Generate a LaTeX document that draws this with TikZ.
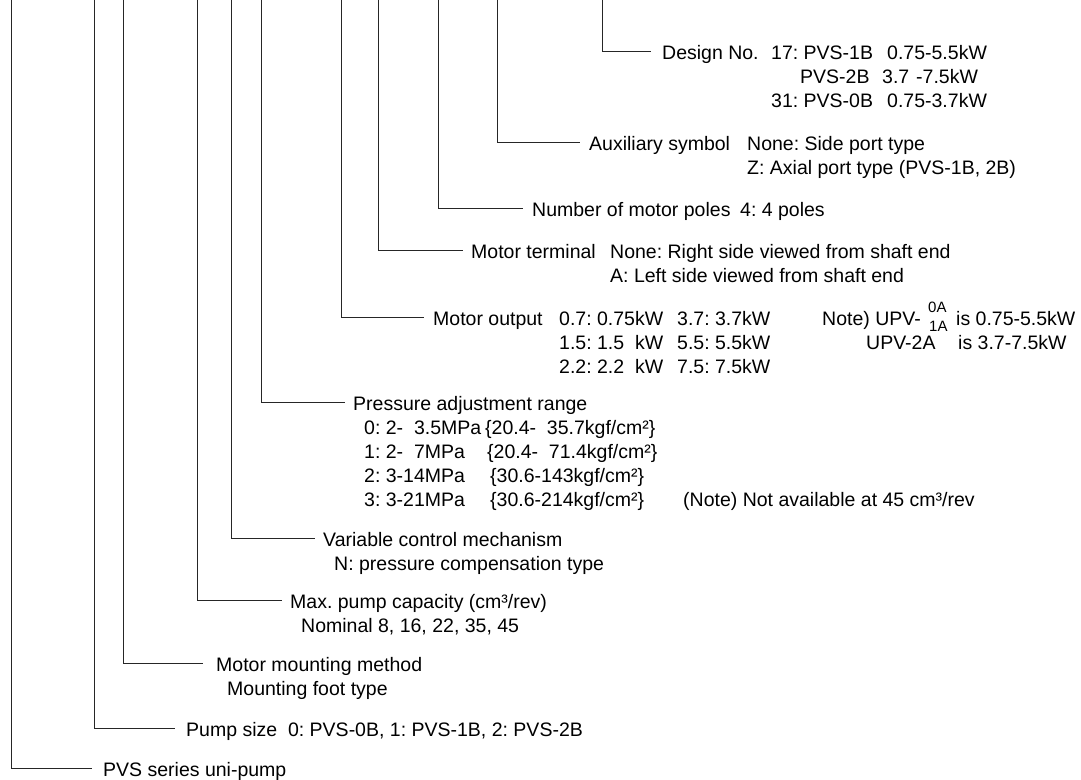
\documentclass[tikz,border=0pt]{standalone}
\usepackage{fontspec}
\setmainfont{Liberation Sans}
\frenchspacing
\begin{document}
\begin{tikzpicture}[x=1pt,y=-1pt,
  conn/.style={draw=black!85, line width=0.9pt},
  lbl/.style={anchor=base west, inner sep=0pt, text height=19pt, text depth=3pt, font=\fontsize{19.5}{24}\selectfont},
  sm/.style={anchor=base west, inner sep=0pt, font=\fontsize{15}{15}\selectfont}]
\useasboundingbox (0,0) rectangle (1081,779);

% ---- Design No.
\node[lbl] (t1) at (662,59) {Design No.};
\node[lbl] (d1a) at (771,59) {17: PVS-1B};
\node[lbl] (d1b) at (887,59) {0.75-5.5kW};
\node[lbl] (d2a) at (800,83) {PVS-2B};
\node[lbl] (d2b) at (882,83) {3.7};
\node[lbl] (d2c) at (916,83) {-7.5kW};
\node[lbl] (d3a) at (771,107) {31: PVS-0B};
\node[lbl] (d3b) at (887,107) {0.75-3.7kW};

% ---- Auxiliary symbol
\node[lbl] (t2) at (589,150) {Auxiliary symbol};
\node[lbl] (a1) at (747,150) {None: Side port type};
\node[lbl] (a2) at (747,174) {Z: Axial port type (PVS-1B, 2B)};

% ---- Number of motor poles
\node[lbl] (t3) at (532,216) {Number of motor poles};
\node[lbl] (p1) at (740,216) {4: 4 poles};

% ---- Motor terminal
\node[lbl] (t4) at (471,258) {Motor terminal};
\node[lbl] (m1) at (610,258) {None: Right side viewed from shaft end};
\node[lbl] (m2) at (610,282) {A: Left side viewed from shaft end};

% ---- Motor output
\node[lbl] (t5) at (433,325) {Motor output};
\node[lbl] (o1a) at (559,325) {0.7: 0.75kW};
\node[lbl] (o2a) at (559,349) {1.5: 1.5\ \ kW};
\node[lbl] (o3a) at (559,373) {2.2: 2.2\ \ kW};
\node[lbl] (o1b) at (677,325) {3.7: 3.7kW};
\node[lbl] (o2b) at (677,349) {5.5: 5.5kW};
\node[lbl] (o3b) at (677,373) {7.5: 7.5kW};
\node[lbl] (n1) at (822,325) {Note) UPV-};
\node[sm]  (n0a) at (928,312) {0A};
\node[sm]  (n1a) at (929,331) {1A};
\node[lbl] (n1b) at (956,325) {is 0.75-5.5kW};
\node[lbl] (n2a) at (866,349) {UPV-2A};
\node[lbl] (n2b) at (958,349) {is 3.7-7.5kW};

% ---- Pressure adjustment range
\node[lbl] (t6) at (353,410) {Pressure adjustment range};
\node[lbl] (r0a) at (364,434) {0: 2-\ \ 3.5MPa};
\node[lbl] (r0b) at (485,434) {\{20.4-\ \ 35.7kgf/cm²\}};
\node[lbl] (r1a) at (364,458) {1: 2-\ \ 7MPa};
\node[lbl] (r1b) at (487,458) {\{20.4-\ \ 71.4kgf/cm²\}};
\node[lbl] (r2a) at (364,482) {2: 3-14MPa};
\node[lbl] (r2b) at (490,482) {\{30.6-143kgf/cm²\}};
\node[lbl] (r3a) at (364,506) {3: 3-21MPa};
\node[lbl] (r3b) at (490,506) {\{30.6-214kgf/cm²\}};
\node[lbl] (r3c) at (683,506) {(Note) Not available at 45 cm³/rev};

% ---- Variable control mechanism
\node[lbl] (t7) at (323,546) {Variable control mechanism};
\node[lbl] (v1) at (334,570) {N: pressure compensation type};

% ---- Max. pump capacity
\node[lbl] (t8) at (290,608) {Max. pump capacity (cm³/rev)};
\node[lbl] (x1) at (301,632) {Nominal 8, 16, 22, 35, 45};

% ---- Motor mounting method
\node[lbl] (t9) at (216,671) {Motor mounting method};
\node[lbl] (u1) at (227,695) {Mounting foot type};

% ---- Pump size
\node[lbl] (t10) at (186,736) {Pump size\ \ 0: PVS-0B, 1: PVS-1B, 2: PVS-2B};

% ---- PVS series
\node[lbl] (t11) at (103,776) {PVS series uni-pump};

% ---- connectors
\coordinate (c1) at (602,0);
\coordinate (c2) at (497,0);
\coordinate (c3) at (438,0);
\coordinate (c4) at (378,0);
\coordinate (c5) at (341,0);
\coordinate (c6) at (261,0);
\coordinate (c7) at (231,0);
\coordinate (c8) at (197,0);
\coordinate (c9) at (123,0);
\coordinate (c10) at (94,0);
\coordinate (c11) at (11,0);

\draw[conn, shorten >=11pt] (c1) |- (t1.west);
\draw[conn, shorten >=9pt] (c2) |- (t2.west);
\draw[conn, shorten >=9pt] (c3) |- (t3.west);
\draw[conn, shorten >=8pt] (c4) |- (t4.west);
\draw[conn, shorten >=9pt] (c5) |- (t5.west);
\draw[conn, shorten >=8pt] (c6) |- (t6.west);
\draw[conn, shorten >=8pt] (c7) |- (t7.west);
\draw[conn, shorten >=8pt] (c8) |- (t8.west);
\draw[conn, shorten >=13pt] (c9) |- (t9.west);
\draw[conn, shorten >=11pt] (c10) |- (t10.west);
\draw[conn, shorten >=11pt] (c11) |- (t11.west);
\end{tikzpicture}
\end{document}
